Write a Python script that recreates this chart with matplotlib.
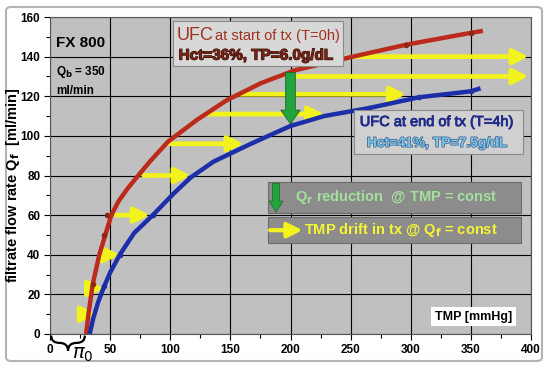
import matplotlib
matplotlib.use('Agg')
import matplotlib.pyplot as plt
import matplotlib.patheffects as pe
from matplotlib.patches import Rectangle, FancyBboxPatch, PathPatch
from matplotlib.path import Path

# red curve: start of treatment (T=0h)
red_tmp = [30, 32, 35.5, 41, 46, 51, 57, 64, 72, 83, 98, 122, 147, 175, 203, 252, 296, 350, 360]
red_qf = [0, 10, 25, 40, 50, 60, 67, 73, 79, 87, 97, 108, 118, 126.5, 133, 140, 146, 152, 153]
red_pts_tmp = [35.5, 45, 47.5, 296, 350]
red_pts_qf = [25, 50, 60, 146, 152]

# blue curve: end of treatment (T=4h)
blue_tmp = [33, 36, 40, 45, 50, 58, 70, 85.5, 103, 117, 136, 167, 200, 228, 265, 307, 350, 358]
blue_qf = [0, 8, 16, 24, 31, 40, 51, 60, 71, 79, 87, 96, 105, 110, 114, 119.5, 122.5, 124]
blue_pts_tmp = [45, 58, 85.5, 265, 307, 350]
blue_pts_qf = [24, 40, 60, 114, 119.5, 122.5]

# yellow TMP drift arrows
drift_qf = [10, 23, 40, 60, 80, 96, 111, 121, 130, 140]
drift_start = [33, 36, 43, 55, 78, 100, 130, 158, 205, 252]
drift_end = [39, 45, 58, 83, 117, 161, 228, 296, 398, 398]

# green Qf reduction arrow
red_arrow_tmp = 200
red_arrow_from = 132
red_arrow_to = 106

xticks = [0, 50, 100, 150, 200, 250, 300, 350, 400]
yticks = [0, 20, 40, 60, 80, 100, 120, 140, 160]

sans = ['Liberation Sans', 'DejaVu Sans']

fig = plt.figure(figsize=(5.5, 3.72), dpi=100)
fig.patch.set_facecolor('white')
fig.patches.append(FancyBboxPatch((6 / 550, 11 / 372), 536 / 550, 354 / 372,
                                  boxstyle='round,pad=0,rounding_size=0.01',
                                  transform=fig.transFigure, fc='white',
                                  ec='#b4b4b4', lw=1.5, zorder=-10))
ax = fig.add_axes([50 / 550, 38 / 372, 481 / 550, 317 / 372])
ax.set_facecolor('#c0c0c0')
ax.set_xlim(0, 400)
ax.set_ylim(0, 160)
ax.set_xticks(xticks)
ax.set_yticks(yticks)
ax.set_xticks(range(25, 400, 50), minor=True)
ax.set_yticks(range(10, 160, 20), minor=True)
ax.grid(True, which='major', color='black', lw=0.8)
ax.set_axisbelow(True)
ax.tick_params(which='major', length=4, width=0.8, pad=3)
ax.tick_params(which='minor', length=3, width=0.8)
for lab in ax.get_xticklabels() + ax.get_yticklabels():
    lab.set_family(sans)
    lab.set_fontweight('bold')
    lab.set_fontsize(8.5)
for s in ax.spines.values():
    s.set_color('#555555')
    s.set_linewidth(0.8)

ax.set_ylabel('filtrate flow rate Q$_\\mathbf{f}$  [ml/min]', family=sans,
              fontweight='bold', fontsize=10.5)
ax.yaxis.set_label_coords(-0.058, 0.47)

# yellow drift arrows
for q, a, b in zip(drift_qf, drift_start, drift_end):
    ax.annotate('', xy=(b, q), xytext=(a, q),
                arrowprops=dict(arrowstyle='-|>,head_length=0.9,head_width=0.45',
                                color='#f2f21c', lw=3.4, mutation_scale=10,
                                shrinkA=0, shrinkB=0), zorder=3)

ax.plot(red_tmp, red_qf, color='#bb2a1a', lw=3.2, zorder=4,
        solid_capstyle='butt', solid_joinstyle='round')
ax.plot(blue_tmp, blue_qf, color='#1c2fa8', lw=3.2, zorder=4,
        solid_capstyle='butt', solid_joinstyle='round')
ax.plot(red_pts_tmp, red_pts_qf, 'o', color='#8a2a14', ms=3, zorder=5)
ax.plot(blue_pts_tmp, blue_pts_qf, 'o', color='#1c2fa8', ms=3, zorder=5)

# green reduction arrow
ax.annotate('', xy=(red_arrow_tmp, red_arrow_to), xytext=(red_arrow_tmp, red_arrow_from),
            arrowprops=dict(arrowstyle='simple,head_length=1.0,head_width=1.4,tail_width=0.7',
                            fc='#22a33c', ec='#1a6a28', lw=0.6, mutation_scale=10,
                            shrinkA=0, shrinkB=0), zorder=6)

# top-left labels
ax.text(5, 147, 'FX 800', family=sans, fontweight='bold', fontsize=11, va='center')
ax.text(5, 128, 'Q$_\\mathbf{b}$ = 350\nml/min', family=sans, fontweight='bold',
        fontsize=8.5, va='center', linespacing=1.5)

# start-of-treatment label box
ax.add_patch(Rectangle((102, 135.5), 142, 22.5, fc='#d8d8d8', ec='#8a8a8a', lw=0.8, zorder=7))
ax.text(105, 150.5, 'UFC', color='#a2321f', family=sans, fontsize=13, va='center', zorder=8)
ax.text(137, 150.2, 'at start of tx (T=0h)', color='#a2321f', family=sans,
        fontsize=10.5, va='center', zorder=8)
ax.text(107, 140.5, 'Hct=36%, TP=6.0g/dL', color='#7a2414', family=sans, fontweight='bold',
        fontsize=11, va='center', zorder=8,
        path_effects=[pe.withStroke(linewidth=0.8, foreground='#2a0c06')])

# end-of-treatment label box
ax.add_patch(Rectangle((252.5, 91), 140.5, 22, fc='#d0d0d0', ec='#8a8a8a', lw=0.8, zorder=7))
ax.text(322, 107, 'UFC at end of tx (T=4h)', color='#1f2a8a', family=sans,
        fontsize=10.5, ha='center', va='center', zorder=8,
        path_effects=[pe.withStroke(linewidth=0.6, foreground='#1f2a8a')])
ax.text(322, 96.5, 'Hct=41%, TP=7.5g/dL', color='#7ac8ec', family=sans, fontweight='bold',
        fontsize=10, ha='center', va='center', zorder=8,
        path_effects=[pe.withStroke(linewidth=1.0, foreground='#3a5a8a')])

# legend boxes
ax.add_patch(Rectangle((181, 61), 211, 15.6, fc='#8c8c8c', ec='#6a6a6a', lw=0.8, zorder=7))
ax.add_patch(Rectangle((181, 46), 211, 13, fc='#8c8c8c', ec='#6a6a6a', lw=0.8, zorder=7))
ax.annotate('', xy=(188, 61.5), xytext=(188, 76),
            arrowprops=dict(arrowstyle='simple,head_length=0.8,head_width=1.0,tail_width=0.5',
                            fc='#22a33c', ec='#1a6a28', lw=0.5, mutation_scale=10,
                            shrinkA=0, shrinkB=0), zorder=8)
ax.text(204, 69, 'Q$_\\mathbf{r}$ reduction  @ TMP = const', color='#a3e09c', family=sans,
        fontweight='bold', fontsize=10.5, va='center', zorder=8)
ax.annotate('', xy=(210, 52.4), xytext=(183, 52.4),
            arrowprops=dict(arrowstyle='-|>,head_length=0.9,head_width=0.45',
                            color='#f2f21c', lw=3, mutation_scale=10,
                            shrinkA=0, shrinkB=0), zorder=8)
ax.text(211, 52.4, 'TMP drift in tx @ Q$_\\mathbf{f}$ = const', color='#f5f532', family=sans,
        fontweight='bold', fontsize=10.5, va='center', zorder=8)

# axis title box
ax.text(352, 8.8, 'TMP [mmHg]', family=sans, fontweight='bold', fontsize=9,
        ha='center', va='center', zorder=8,
        bbox=dict(boxstyle='square,pad=0.3', fc='white', ec='none'))

# brace for osmotic pressure
brace = Path([(1, -0.8), (1, -4.5), (8, -4.5), (15, -4.5), (15, -8.5),
              (15, -4.5), (22, -4.5), (29, -4.5), (29, -0.8)],
             [Path.MOVETO, Path.CURVE3, Path.CURVE3, Path.CURVE3, Path.CURVE3,
              Path.CURVE3, Path.CURVE3, Path.CURVE3, Path.CURVE3])
ax.add_patch(PathPatch(brace, fc='none', ec='black', lw=1.6, clip_on=False))
ax.text(27, -10.5, '$\\pi_0$', fontsize=14, ha='center', va='center')

fig.savefig('out.png', dpi=100)
